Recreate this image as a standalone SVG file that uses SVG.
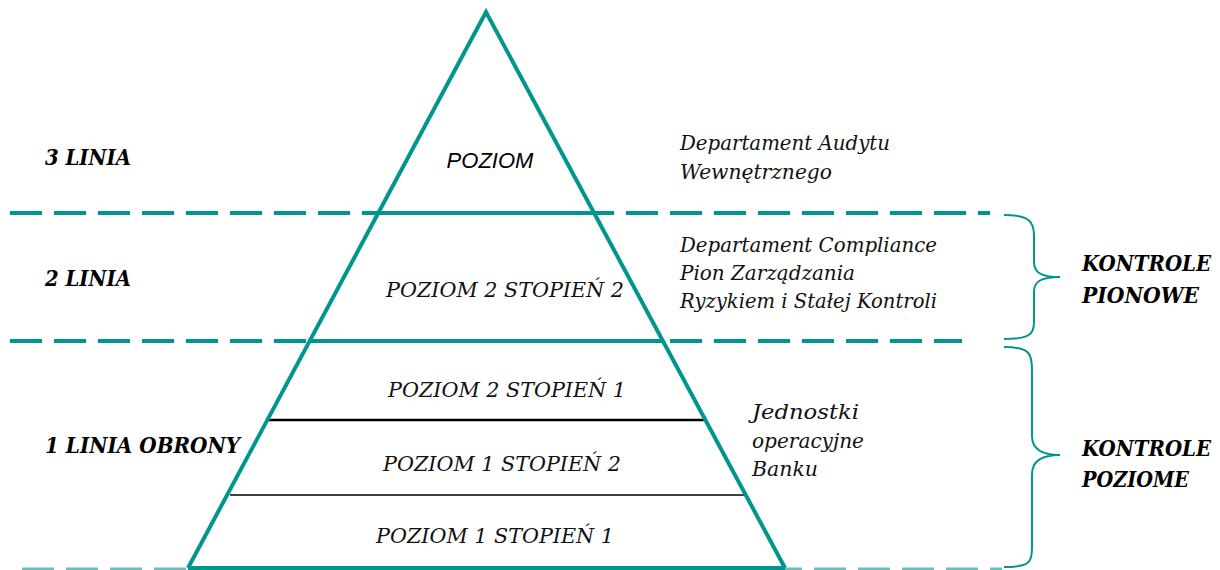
<svg xmlns="http://www.w3.org/2000/svg" width="1220" height="570" viewBox="0 0 1220 570">
  <style>
    .teal { stroke: #00968F; fill: none; }
    .dash { stroke: #00968F; stroke-width: 4; stroke-dasharray: 32 12; fill: none; }
    .rule { stroke: #000; fill: none; }
    .brace { stroke: #00968F; stroke-width: 2; fill: none; }
    .lvl { font-family: "DejaVu Serif", serif; font-style: italic; font-size: 21px; fill: #111; }
    .side { font-family: "DejaVu Serif", serif; font-style: italic; font-size: 20px; fill: #111; }
    .head { font-family: "DejaVu Serif", serif; font-style: italic; font-weight: bold; font-size: 23px; fill: #000; }
    .tail { font-family: "DejaVu Serif Condensed", "DejaVu Serif", serif; font-size: 22px; }
    .top { font-family: "Liberation Sans", Arial, sans-serif; font-style: italic; font-size: 22px; fill: #000; }
  </style>
  <rect width="1220" height="570" fill="#fff"/>

  <g id="connectors">
    <!-- boundaries between the lines of defence -->
    <line class="dash" x1="10" y1="213" x2="990" y2="213"/>
    <line class="dash" x1="10" y1="341" x2="962" y2="341"/>
    <line class="dash" x1="22" y1="569" x2="1002" y2="569" stroke-opacity="0.6" style="stroke-width:3"/>
    <!-- solid segments inside the pyramid -->
    <line class="teal" stroke-width="4" x1="378" y1="213" x2="594" y2="213"/>
    <line class="teal" stroke-width="4" x1="310" y1="341" x2="662" y2="341"/>
    <line class="teal" stroke-width="4" x1="188" y1="568" x2="785" y2="568"/>
    <!-- inner level rules -->
    <line class="rule" stroke-width="2.5" x1="268" y1="420" x2="704" y2="420"/>
    <line class="rule" stroke-width="1.6" x1="230" y1="495" x2="744" y2="495"/>
    <!-- braces -->
    <path class="brace" d="M1004,215 C1030,215 1034,222 1034,236 L1034,262 C1034,272 1040,277 1060,277 C1040,277 1034,282 1034,292 L1034,322 C1034,334 1030,339 1004,339"/>
    <path class="brace" d="M1004,347 C1030,347 1032,354 1032,370 L1032,436 C1032,448 1040,455 1060,455 C1040,455 1032,462 1032,474 L1032,548 C1032,562 1030,567 1004,567"/>
  </g>

  <g id="pyramid">
    <polyline class="teal" stroke-width="4" stroke-linejoin="miter" points="188,568 486,12 785,568"/>
  </g>

  <g id="level-top">
    <text class="top" x="490" y="168" text-anchor="middle">POZIOM</text>
  </g>
  <g id="level-2-2">
    <text class="lvl" x="505" y="297" text-anchor="middle" textLength="238" lengthAdjust="spacingAndGlyphs">POZIOM 2 STOPIEŃ 2</text>
  </g>
  <g id="level-2-1">
    <text class="lvl" x="507" y="397" text-anchor="middle" textLength="238" lengthAdjust="spacingAndGlyphs">POZIOM 2 STOPIEŃ 1</text>
  </g>
  <g id="level-1-2">
    <text class="lvl" x="502" y="471" text-anchor="middle" textLength="238" lengthAdjust="spacingAndGlyphs">POZIOM 1 STOPIEŃ 2</text>
  </g>
  <g id="level-1-1">
    <text class="lvl" x="495" y="543" text-anchor="middle" textLength="238" lengthAdjust="spacingAndGlyphs">POZIOM 1 STOPIEŃ 1</text>
  </g>

  <g id="line-3">
    <text class="head" x="45" y="165" textLength="86" lengthAdjust="spacingAndGlyphs">3 LINIA</text>
  </g>
  <g id="line-2">
    <text class="head" x="45" y="286" textLength="86" lengthAdjust="spacingAndGlyphs">2 LINIA</text>
  </g>
  <g id="line-1">
    <text class="head" x="45" y="453" textLength="195" lengthAdjust="spacingAndGlyphs">1 LINIA OBRONY</text>
  </g>

  <g id="audit">
    <text class="side" x="680" y="150" textLength="210" lengthAdjust="spacingAndGlyphs">Departament Audytu</text>
    <text class="side" x="680" y="179" textLength="152" lengthAdjust="spacingAndGlyphs">Wewnętrznego</text>
  </g>
  <g id="compliance">
    <text class="side" x="680" y="252" textLength="257" lengthAdjust="spacingAndGlyphs">Departament Compliance</text>
    <text class="side" x="680" y="280" textLength="175" lengthAdjust="spacingAndGlyphs">Pion Zarządzania</text>
    <text class="side" x="680" y="308" textLength="257" lengthAdjust="spacingAndGlyphs">Ryzykiem i Stałej Kontroli</text>
  </g>
  <g id="units">
    <text class="side" x="752" y="419" textLength="107" lengthAdjust="spacingAndGlyphs">Jednostki</text>
    <text class="side" x="752" y="448" textLength="112" lengthAdjust="spacingAndGlyphs">operacyjne</text>
    <text class="side" x="752" y="476" textLength="66" lengthAdjust="spacingAndGlyphs">Banku</text>
  </g>

  <g id="vertical-controls">
    <text class="head tail" x="1082" y="271" textLength="129" lengthAdjust="spacingAndGlyphs">KONTROLE</text>
    <text class="head tail" x="1082" y="303" textLength="117" lengthAdjust="spacingAndGlyphs">PIONOWE</text>
  </g>
  <g id="horizontal-controls">
    <text class="head tail" x="1082" y="456" textLength="129" lengthAdjust="spacingAndGlyphs">KONTROLE</text>
    <text class="head tail" x="1082" y="487" textLength="107" lengthAdjust="spacingAndGlyphs">POZIOME</text>
  </g>
</svg>
